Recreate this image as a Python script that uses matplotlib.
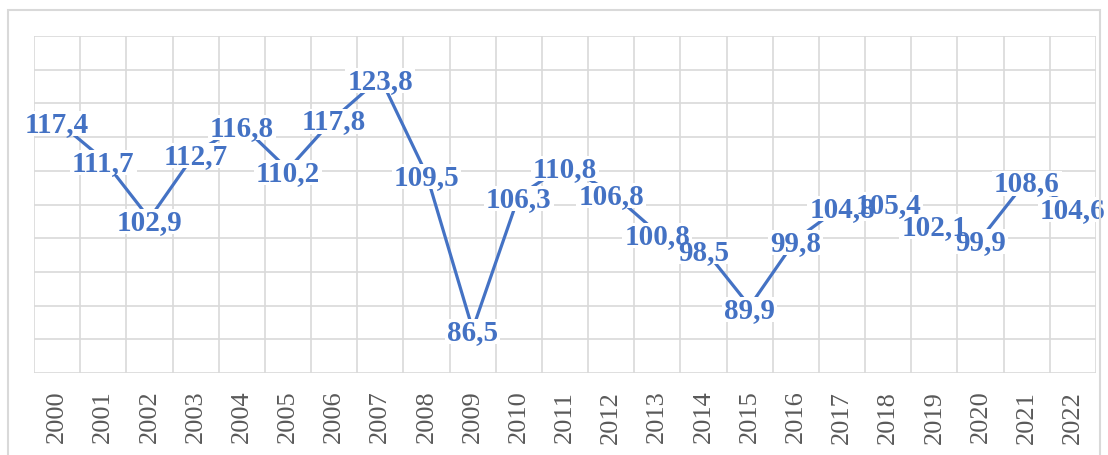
import matplotlib
matplotlib.use("Agg")
import matplotlib.pyplot as plt
from matplotlib.patches import Rectangle

years = [str(y) for y in range(2000, 2023)]
values = [117.4, 111.7, 102.9, 112.7, 116.8, 110.2, 117.8, 123.8, 109.5, 86.5,
          106.3, 110.8, 106.8, 100.8, 98.5, 89.9, 99.8, 104.8, 105.4, 102.1,
          99.9, 108.6, 104.6]

W, H = 1108, 456
fig = plt.figure(figsize=(W / 100, H / 100), dpi=100)
fig.patch.set_facecolor("white")

# outer chart frame
fig.patches.append(Rectangle((8 / W, -0.05), (1100 - 8) / W, 1.05 - 11 / H,
                             transform=fig.transFigure, fill=False,
                             edgecolor="#D9D9D9", linewidth=1.5))

ax = fig.add_axes([34 / W, 1 - 374 / H, (1096 - 34) / W, (374 - 37) / H])
x = list(range(len(years)))
blue = "#4472C4"
ax.plot(x, values, color=blue, linewidth=2.3, zorder=3, solid_capstyle="butt")

ax.set_xlim(-0.5, len(years) - 0.5)
ax.set_ylim(80, 130)

labels = []
for xi, v in zip(x, values):
    lbl = f"{v:.1f}".replace(".", ",")
    t = ax.annotate(lbl, xy=(xi, v), xytext=(0, -2), textcoords="offset points",
                    ha="center", va="center", fontsize=21, fontweight="bold",
                    family="Liberation Serif", color=blue, zorder=5,
                    annotation_clip=False)
    labels.append(t)

# white background boxes behind all labels (hide the line, keep texts visible)
renderer = fig.canvas.get_renderer()
inv = fig.transFigure.inverted()
for t in labels:
    bb = t.get_window_extent(renderer)
    (x0, y0), (x1, y1) = inv.transform([[bb.x0 - 2, bb.y0 + 1], [bb.x1 + 2, bb.y1 - 1]])
    r = Rectangle((x0, y0), x1 - x0, y1 - y0, transform=fig.transFigure,
                  facecolor="white", edgecolor="none", zorder=4, clip_on=False)
    ax.add_artist(r)

ax.set_yticks(range(80, 131, 5))
ax.set_yticklabels([])
ax.set_xticks([i - 0.5 for i in range(len(years) + 1)], minor=False)
ax.set_xticklabels([])
ax.set_xticks(x, minor=True)
ax.set_xticklabels(years, minor=True, rotation=90, family="Liberation Serif",
                   fontsize=19, color="#595959")
ax.tick_params(axis="both", which="both", length=0)
ax.tick_params(axis="x", which="minor", pad=12)
ax.grid(True, which="major", color="#D9D9D9", linewidth=1.2, zorder=0)
ax.set_axisbelow(True)
for s in ax.spines.values():
    s.set_visible(False)

fig.savefig("out.png", dpi=100, facecolor="white")
